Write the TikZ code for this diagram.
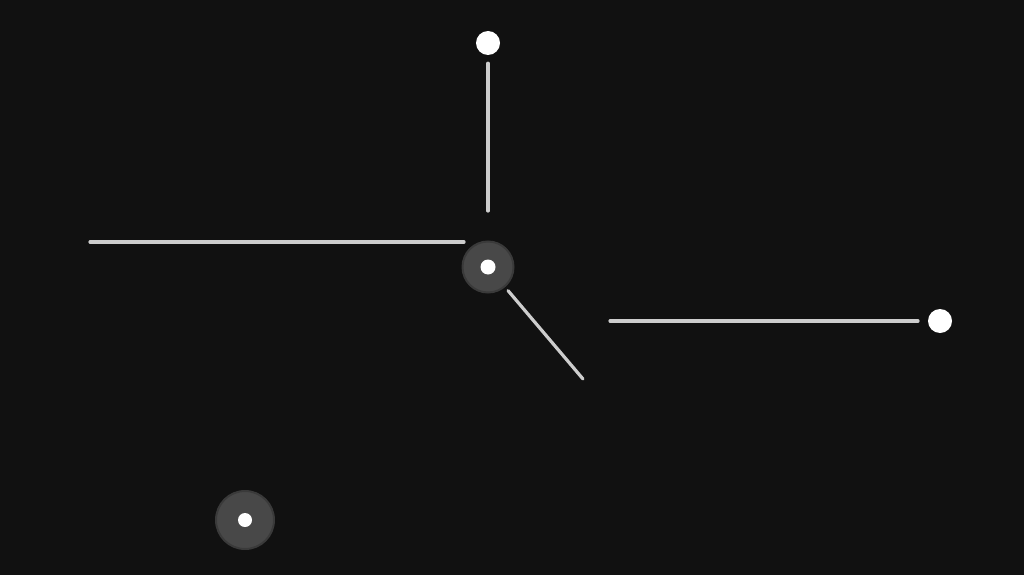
\documentclass[tikz,border=0pt]{standalone}
\usetikzlibrary{positioning}
\definecolor{bgdark}{HTML}{111111}
\definecolor{halogray}{HTML}{484848}
\definecolor{wiregray}{HTML}{CDCDCD}

\begin{document}
\begin{tikzpicture}[x=1pt,y=-1pt,
  dot/.style={circle,fill=white,inner sep=0pt,minimum size=24pt},
  pin/.style={circle,fill=white,inner sep=0pt,minimum size=15pt},
  halo/.style={circle,fill=halogray,draw=halogray!75!bgdark,line width=2pt,inner sep=0pt},
  wire/.style={draw=wiregray,line width=3.2pt,line cap=round}]
  \fill[bgdark] (0,0) rectangle (1024,575);
  % hubs
  \node[halo,minimum size=51pt] (hub)  at (488,267) {};
  \node[pin]                    (hubpin) at (hub) {};
  \node[halo,minimum size=58pt] (lone) at (245,520) {};
  \node[pin,minimum size=14pt]  (lonepin) at (lone) {};
  % end dots
  \node[dot] (top)  at (488,43)  {};
  \node[dot] (east) at (940,321) {};
  % free ends
  \coordinate (topend)  at (488,211);
  \coordinate (west)    at (90,242);
  \coordinate (westend) at (464,242);
  \coordinate (diagend) at (583,379);
  \coordinate (eastend) at (610,321);
  % wires
  \draw[wire,shorten <=8pt] (top) -- (topend);
  \draw[wire] (west) -- (westend);
  \draw[wire,shorten <=31pt] (hub.center) -- (diagend);
  \draw[wire,shorten >=22pt] (eastend) -- (east.center);
\end{tikzpicture}
\end{document}
